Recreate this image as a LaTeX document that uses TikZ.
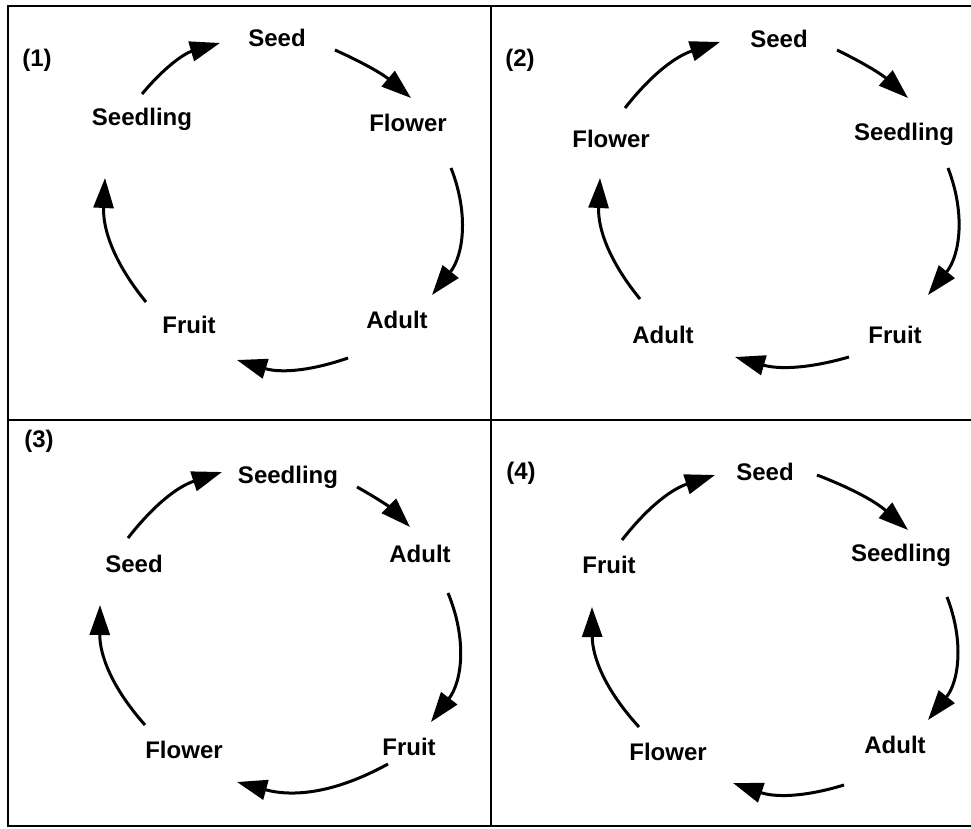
\documentclass[tikz,border=0pt]{standalone}
\usepackage{fontspec}
\setmainfont{Liberation Sans}
\usetikzlibrary{arrows.meta}
\tikzset{
  lbl/.style={anchor=base, inner sep=0pt, font=\fontsize{24}{29}\selectfont\bfseries},
  cyc/.style={line width=3pt, -{Triangle[length=30pt,width=20pt]}},
  frame/.style={line width=2pt}
}
\begin{document}
\begin{tikzpicture}[x=1pt,y=-1pt]
\useasboundingbox (0,0) rectangle (971,829);
\fill[white] (0,0) rectangle (971,829);
% frame and dividers of the four panels
\draw[frame] (971,6) -- (8,6) -- (8,826) -- (971,826);
\draw[frame] (491,6) -- (491,826);
\draw[frame] (8,420) -- (971,420);

% ---------- panel (1) ----------
\node[lbl] (t1) at (37,67) {(1)};
\node[lbl] (p1seed) at (277,47) {Seed};
\node[lbl] (p1flower) at (408,132) {Flower};
\node[lbl] (p1seedling) at (142,126) {Seedling};
\node[lbl] (p1adult) at (397,328) {Adult};
\node[lbl] (p1fruit) at (189,333) {Fruit};
\coordinate (p1a) at (142,94);  \coordinate (p1A) at (220,43);
\coordinate (p1b) at (335,50);  \coordinate (p1B) at (411,98);
\coordinate (p1c) at (451,168); \coordinate (p1C) at (432,295);
\coordinate (p1d) at (348,358); \coordinate (p1D) at (237,360);
\coordinate (p1e) at (146,302); \coordinate (p1E) at (105,178);
\draw[cyc] (p1a) to[bend left=17] (p1A);
\draw[cyc] (p1b) to[bend left=8]  (p1B);
\draw[cyc] (p1c) to[bend left=30] (p1C);
\draw[cyc] (p1d) to[bend left=18] (p1D);
\draw[cyc] (p1e) to[bend left=21] (p1E);

% ---------- panel (2) ----------
\node[lbl] (t2) at (520,67) {(2)};
\node[lbl] (p2seed) at (779,48) {Seed};
\node[lbl] (p2seedling) at (904,141) {Seedling};
\node[lbl] (p2flower) at (611,148) {Flower};
\node[lbl] (p2fruit) at (895,343) {Fruit};
\node[lbl] (p2adult) at (663,343) {Adult};
\coordinate (p2a) at (625,108); \coordinate (p2A) at (720,42);
\coordinate (p2b) at (837,50);  \coordinate (p2B) at (908,98);
\coordinate (p2c) at (948,168); \coordinate (p2C) at (928,295);
\coordinate (p2d) at (849,357); \coordinate (p2D) at (735,357);
\coordinate (p2e) at (640,299); \coordinate (p2E) at (600,178);
\draw[cyc] (p2a) to[bend left=17] (p2A);
\draw[cyc] (p2b) to[bend left=8]  (p2B);
\draw[cyc] (p2c) to[bend left=30] (p2C);
\draw[cyc] (p2d) to[bend left=16] (p2D);
\draw[cyc] (p2e) to[bend left=21] (p2E);

% ---------- panel (3) ----------
\node[lbl] (t3) at (39,447) {(3)};
\node[lbl] (p3seedling) at (288,483) {Seedling};
\node[lbl] (p3adult) at (420,562) {Adult};
\node[lbl] (p3seed) at (134,572) {Seed};
\node[lbl] (p3flower) at (184,758) {Flower};
\node[lbl] (p3fruit) at (409,755) {Fruit};
\coordinate (p3a) at (128,538); \coordinate (p3A) at (222,472);
\coordinate (p3b) at (357,487); \coordinate (p3B) at (410,527);
\coordinate (p3c) at (448,593); \coordinate (p3C) at (431,722);
\coordinate (p3d) at (388,764); \coordinate (p3D) at (237,782);
\coordinate (p3e) at (145,725); \coordinate (p3E) at (100,605);
\draw[cyc] (p3a) to[bend left=17] (p3A);
\draw[cyc] (p3b) to[bend left=8]  (p3B);
\draw[cyc] (p3c) to[bend left=30] (p3C);
\draw[cyc] (p3d) to[bend left=22] (p3D);
\draw[cyc] (p3e) to[bend left=21] (p3E);

% ---------- panel (4) ----------
\node[lbl] (t4) at (521,479) {(4)};
\node[lbl] (p4seed) at (765,480) {Seed};
\node[lbl] (p4seedling) at (901,561) {Seedling};
\node[lbl] (p4fruit) at (609,573) {Fruit};
\node[lbl] (p4adult) at (895,753) {Adult};
\node[lbl] (p4flower) at (668,760) {Flower};
\coordinate (p4a) at (622,540); \coordinate (p4A) at (715,475);
\coordinate (p4b) at (817,475); \coordinate (p4B) at (908,530);
\coordinate (p4c) at (947,597); \coordinate (p4C) at (928,720);
\coordinate (p4d) at (844,785); \coordinate (p4D) at (733,783);
\coordinate (p4e) at (639,727); \coordinate (p4E) at (592,607);
\draw[cyc] (p4a) to[bend left=17] (p4A);
\draw[cyc] (p4b) to[bend left=10] (p4B);
\draw[cyc] (p4c) to[bend left=30] (p4C);
\draw[cyc] (p4d) to[bend left=18] (p4D);
\draw[cyc] (p4e) to[bend left=21] (p4E);
\end{tikzpicture}
\end{document}
